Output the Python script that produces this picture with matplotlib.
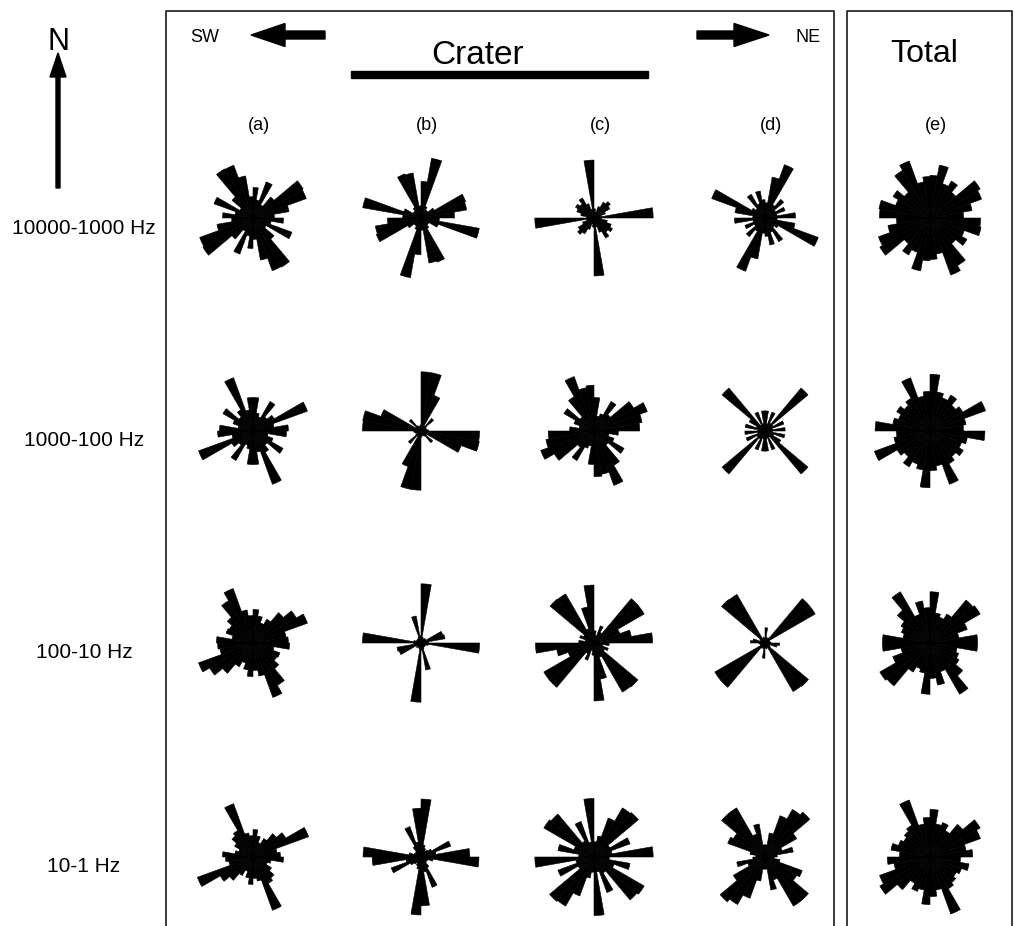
import numpy as np
import matplotlib.pyplot as plt
from matplotlib.patches import Rectangle

plt.rcParams['font.family'] = ['Liberation Sans', 'DejaVu Sans']

# azimuth bins (deg, centres); roses are axial so 180-360 repeats 0-180
bin_centres = np.arange(5, 180, 10)

bands = ['10000-1000 Hz', '1000-100 Hz', '100-10 Hz', '10-1 Hz']
sites = ['(a)', '(b)', '(c)', '(d)', '(e)']

# relative frequency per 10 deg bin, 0-180 deg
f10000_a = [0.50, 0.30, 0.63, 0.25, 0.45, 0.95, 0.93, 0.60, 0.35, 0.50, 0.30, 0.68, 0.25, 0.45, 0.93, 0.92, 0.70, 0.35]
f10000_b = [0.60, 1.00, 0.20, 0.15, 0.15, 0.25, 0.78, 0.76, 0.55, 0.30, 0.97, 0.30, 0.15, 0.15, 0.20, 0.77, 0.75, 0.20]
f10000_c = [0.15, 0.10, 0.20, 0.30, 0.35, 0.30, 0.20, 0.12, 0.97, 0.12, 0.22, 0.30, 0.35, 0.30, 0.38, 0.25, 0.15, 0.95]
f10000_d = [0.25, 0.68, 0.93, 0.25, 0.40, 0.20, 0.35, 0.20, 0.50, 0.20, 0.50, 0.93, 0.25, 0.20, 0.45, 0.25, 0.45, 0.30]
f10000_e = [0.70, 0.88, 0.60, 0.70, 0.55, 0.95, 0.90, 0.70, 0.55, 0.83, 0.85, 0.60, 0.70, 0.55, 0.90, 1.00, 0.60, 0.68]

f1000_a = [0.55, 0.30, 0.25, 0.56, 0.30, 0.40, 0.95, 0.35, 0.58, 0.55, 0.25, 0.35, 0.57, 0.30, 0.40, 0.93, 0.35, 0.55]
f1000_b = [0.97, 0.97, 0.62, 0.10, 0.27, 0.10, 0.08, 0.10, 0.12, 0.96, 0.97, 0.70, 0.10, 0.25, 0.10, 0.08, 0.08, 0.10]
f1000_c = [0.55, 0.25, 0.30, 0.56, 0.35, 0.75, 0.93, 0.80, 0.75, 0.40, 0.25, 0.35, 0.57, 0.30, 0.65, 0.95, 0.72, 0.75]
f1000_d = [0.33, 0.12, 0.33, 0.15, 0.92, 0.15, 0.33, 0.12, 0.33, 0.12, 0.33, 0.15, 0.30, 0.92, 0.12, 0.33, 0.12, 0.33]
f1000_e = [0.93, 0.65, 0.58, 0.68, 0.55, 0.62, 0.97, 0.60, 0.55, 0.90, 0.62, 0.55, 0.63, 0.55, 0.62, 0.93, 0.58, 0.65]

f100_a = [0.55, 0.45, 0.35, 0.45, 0.65, 0.82, 0.95, 0.55, 0.58, 0.60, 0.35, 0.47, 0.45, 0.55, 0.80, 0.95, 0.55, 0.45]
f100_b = [0.97, 0.10, 0.08, 0.08, 0.10, 0.08, 0.38, 0.40, 0.12, 0.96, 0.12, 0.08, 0.08, 0.08, 0.08, 0.10, 0.45, 0.12]
f100_c = [0.20, 0.12, 0.30, 0.20, 0.95, 0.95, 0.45, 0.62, 0.96, 0.25, 0.15, 0.25, 0.20, 0.94, 0.93, 0.25, 0.60, 0.95]
f100_d = [0.25, 0.10, 0.08, 0.10, 0.95, 0.95, 0.08, 0.08, 0.10, 0.24, 0.20, 0.08, 0.10, 0.93, 0.92, 0.08, 0.10, 0.08]
f100_e = [0.84, 0.50, 0.45, 0.55, 0.92, 0.95, 0.65, 0.48, 0.78, 0.78, 0.45, 0.50, 0.55, 0.70, 0.97, 0.50, 0.70, 0.58]

f10_a = [0.45, 0.35, 0.25, 0.35, 0.50, 0.62, 0.97, 0.40, 0.45, 0.50, 0.30, 0.25, 0.35, 0.45, 0.50, 0.93, 0.40, 0.35]
f10_b = [0.95, 0.20, 0.15, 0.12, 0.15, 0.20, 0.52, 0.25, 0.80, 0.95, 0.20, 0.12, 0.10, 0.12, 0.20, 0.53, 0.25, 0.80]
f10_c = [0.25, 0.35, 0.68, 0.93, 0.95, 0.30, 0.63, 0.30, 0.97, 0.25, 0.60, 0.35, 0.95, 0.92, 0.30, 0.62, 0.25, 0.96]
f10_d = [0.20, 0.40, 0.72, 0.90, 0.96, 0.60, 0.30, 0.47, 0.20, 0.15, 0.25, 0.65, 0.60, 0.93, 0.93, 0.40, 0.55, 0.20]
f10_e = [0.78, 0.55, 0.60, 0.50, 0.70, 0.95, 0.88, 0.60, 0.70, 0.50, 0.65, 0.55, 0.50, 0.55, 0.60, 1.00, 0.55, 0.65]

roses = [
    [f10000_a, f10000_b, f10000_c, f10000_d, f10000_e],
    [f1000_a, f1000_b, f1000_c, f1000_d, f1000_e],
    [f100_a, f100_b, f100_c, f100_d, f100_e],
    [f10_a, f10_b, f10_c, f10_d, f10_e],
]

W, H = 1014, 926
col_x = [253, 421, 594, 765, 930]
row_y = [218, 431, 643, 857]
R = 61

fig = plt.figure(figsize=(W / 100, H / 100), dpi=100)
bg = fig.add_axes([0, 0, 1, 1])
bg.set_xlim(0, W)
bg.set_ylim(H, 0)
bg.axis('off')

# panel frames
lc = '#1a1a1a'
bg.plot([166, 166, 834, 834], [H, 11, 11, H], color=lc, lw=1.2)
bg.plot([847, 847, 1012, 1012], [H, 11, 11, H], color=lc, lw=1.2)

# north arrow
bg.text(59, 42, 'N', fontsize=22, ha='center', va='center')
bg.arrow(58, 188, 0, -135, width=4, head_width=16, head_length=24,
         length_includes_head=True, color='black')

# crater header
bg.text(205, 38, 'SW', fontsize=13, ha='center', va='center')
bg.text(808, 38, 'NE', fontsize=13, ha='center', va='center')
bg.arrow(325, 35, -74, 0, width=8, head_width=23, head_length=34,
         length_includes_head=True, color='black')
bg.arrow(697, 35, 72, 0, width=8, head_width=23, head_length=35,
         length_includes_head=True, color='black')
bg.text(478, 55, 'Crater', fontsize=24, ha='center', va='center')
bg.add_patch(Rectangle((351, 70.5), 297, 7, color='black'))
bg.text(924, 54, 'Total', fontsize=23, ha='center', va='center')

for x, s in zip(col_x, sites):
    bg.text(x + 6, 126, s, fontsize=13, ha='center', va='center')

for y, b in zip(row_y, bands):
    bg.text(84, y + 10, b, fontsize=15, ha='center', va='center')

theta = np.deg2rad(np.concatenate([bin_centres, bin_centres + 180]))
width = np.deg2rad(10)

for i, y in enumerate(row_y):
    for j, x in enumerate(col_x):
        ax = fig.add_axes([(x - R) / W, 1 - (y + R) / H, 2 * R / W, 2 * R / H],
                          projection='polar')
        vals = np.array(roses[i][j])
        r = np.concatenate([vals, vals])
        ax.set_theta_zero_location('N')
        ax.set_theta_direction(-1)
        ax.bar(theta, r, width=width, bottom=0, color='black',
               edgecolor='black', linewidth=0.4)
        ax.set_ylim(0, 1)
        ax.axis('off')

fig.savefig('out.png', dpi=100)
